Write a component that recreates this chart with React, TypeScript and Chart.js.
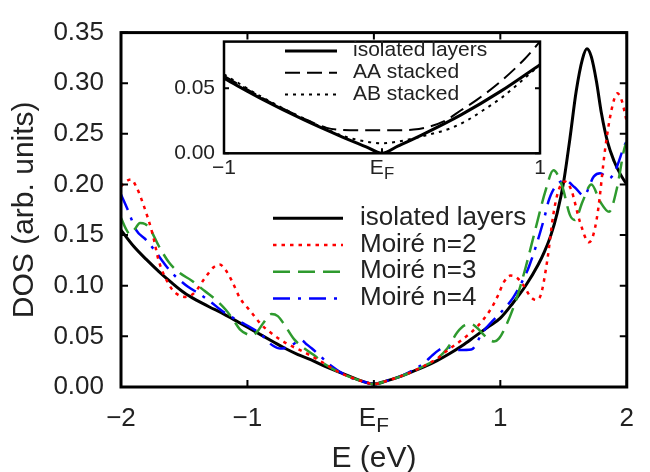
import React, { useEffect, useRef } from 'react';
import { Chart, registerables } from 'chart.js';

Chart.register(...registerables);

const FONT = "'Liberation Sans', Arial, Helvetica, sans-serif";
const TEXT = '#222222';

// ---------- tick labels ----------
const mainXTickValues = [-2, -1, 0, 1, 2];
const mainXTickLabels = ['\u22122', '\u22121', 'E_F', '1', '2'];
const mainYTickValues = [0, 0.05, 0.1, 0.15, 0.2, 0.25, 0.3, 0.35];
const mainYTickLabels = ['0.00', '0.05', '0.10', '0.15', '0.20', '0.25', '0.30', '0.35'];
const insetXTickValues = [-1, 0, 1];
const insetXTickLabels = ['\u22121', 'E_F', '1'];
const insetYTickValues = [0, 0.05];
const insetYTickLabels = ['0.00', '0.05'];

// ---------- legend labels ----------
const mainLabels = ['isolated layers', 'Moiré n=2', 'Moiré n=3', 'Moiré n=4'];
const insetLabels = ['isolated layers', 'AA stacked', 'AB stacked'];

// ---------- main series ----------
const isoE = [-2.0, -1.9, -1.8, -1.7, -1.6, -1.5, -1.4, -1.3, -1.2, -1.1, -1.0, -0.9, -0.8, -0.7, -0.6, -0.5, -0.4, -0.3, -0.2, -0.1, 0,
  0.1, 0.2, 0.3, 0.4, 0.5, 0.6, 0.7, 0.8, 0.9, 1.0, 1.1, 1.2, 1.3, 1.35, 1.4, 1.45, 1.5, 1.55, 1.6, 1.65, 1.685, 1.72, 1.76, 1.8, 1.85, 1.9, 1.95, 2.0];
const isoDOS = [0.155, 0.139, 0.126, 0.114, 0.103, 0.093, 0.0855, 0.079, 0.073, 0.066, 0.059, 0.052, 0.045, 0.038, 0.032, 0.027, 0.021, 0.016, 0.011, 0.006, 0.003,
  0.006, 0.010, 0.015, 0.020, 0.026, 0.033, 0.041, 0.050, 0.059, 0.068, 0.083, 0.100, 0.121, 0.134, 0.150, 0.172, 0.202, 0.245, 0.292, 0.324, 0.334, 0.326, 0.302, 0.270, 0.241, 0.223, 0.210, 0.200];

const n2E = [-2.0, -1.96, -1.92, -1.88, -1.82, -1.75, -1.70, -1.62, -1.56, -1.49, -1.42, -1.34, -1.27, -1.22, -1.17, -1.12, -1.06, -0.97, -0.90, -0.81, -0.69, -0.56, -0.43, -0.25, -0.1, 0,
  0.1, 0.2, 0.3, 0.4, 0.5, 0.57, 0.69, 0.82, 0.92, 0.98, 1.03, 1.08, 1.13, 1.18, 1.24, 1.28, 1.32, 1.37, 1.42, 1.46, 1.51, 1.56, 1.63, 1.70, 1.73, 1.77, 1.83, 1.88, 1.925, 1.96, 2.0];
const n2DOS = [0.198, 0.203, 0.205, 0.198, 0.179, 0.151, 0.124, 0.101, 0.092, 0.089, 0.093, 0.107, 0.118, 0.121, 0.115, 0.104, 0.088, 0.074, 0.063, 0.053, 0.043, 0.035, 0.026, 0.013, 0.006, 0.003,
  0.006, 0.010, 0.015, 0.021, 0.028, 0.035, 0.046, 0.060, 0.076, 0.090, 0.104, 0.110, 0.108, 0.101, 0.089, 0.086, 0.091, 0.124, 0.171, 0.194, 0.203, 0.195, 0.163, 0.143, 0.148, 0.172, 0.236, 0.274, 0.290, 0.283, 0.262];

const n3E = [-2.0, -1.96, -1.93, -1.89, -1.85, -1.81, -1.77, -1.70, -1.62, -1.54, -1.44, -1.34, -1.24, -1.17, -1.11, -1.06, -1.0, -0.96, -0.92, -0.87, -0.81, -0.76, -0.71, -0.63, -0.57, -0.48, -0.38, -0.25, -0.1, 0,
  0.1, 0.2, 0.3, 0.4, 0.5, 0.58, 0.66, 0.72, 0.77, 0.82, 0.85, 0.9, 0.95, 0.99, 1.05, 1.13, 1.2, 1.28, 1.36, 1.42, 1.49, 1.55, 1.59, 1.65, 1.72, 1.79, 1.86, 1.92, 1.98, 2.0];
const n3DOS = [0.167, 0.156, 0.151, 0.156, 0.162, 0.161, 0.156, 0.139, 0.123, 0.113, 0.105, 0.095, 0.085, 0.076, 0.066, 0.057, 0.052, 0.051, 0.055, 0.064, 0.072, 0.070, 0.062, 0.047, 0.040, 0.032, 0.022, 0.013, 0.006, 0.003,
  0.006, 0.010, 0.015, 0.021, 0.028, 0.038, 0.054, 0.061, 0.062, 0.058, 0.054, 0.048, 0.045, 0.048, 0.062, 0.088, 0.118, 0.157, 0.195, 0.214, 0.198, 0.170, 0.165, 0.183, 0.200, 0.183, 0.173, 0.195, 0.235, 0.242];

const n4E = [-2.0, -1.95, -1.88, -1.80, -1.74, -1.67, -1.60, -1.53, -1.47, -1.38, -1.29, -1.21, -1.11, -1.02, -0.95, -0.89, -0.84, -0.80, -0.74, -0.67, -0.60, -0.57, -0.54, -0.49, -0.42, -0.35, -0.2, -0.1, 0,
  0.1, 0.2, 0.3, 0.4, 0.46, 0.52, 0.57, 0.62, 0.68, 0.77, 0.86, 0.93, 1.0, 1.1, 1.18, 1.23, 1.35, 1.38, 1.42, 1.51, 1.59, 1.66, 1.74, 1.79, 1.86, 1.91, 1.98, 2.0];
const n4DOS = [0.190, 0.176, 0.155, 0.145, 0.136, 0.124, 0.113, 0.105, 0.099, 0.092, 0.084, 0.076, 0.068, 0.062, 0.057, 0.052, 0.045, 0.041, 0.038, 0.040, 0.045, 0.046, 0.043, 0.038, 0.030, 0.022, 0.010, 0.006, 0.003,
  0.006, 0.010, 0.016, 0.024, 0.031, 0.037, 0.040, 0.038, 0.0365, 0.037, 0.054, 0.064, 0.073, 0.088, 0.106, 0.120, 0.168, 0.183, 0.195, 0.204, 0.197, 0.189, 0.208, 0.211, 0.206, 0.214, 0.238, 0.243];

// ---------- inset series ----------
const insetIsoE = [-1.0, -0.75, -0.5, -0.25, -0.1, 0, 0.1, 0.25, 0.5, 0.75, 1.0];
const insetIsoDOS = [0.0575, 0.041, 0.026, 0.0125, 0.005, 0.0, 0.0055, 0.014, 0.0295, 0.0475, 0.068];
const insetAAE = [-1.0, -0.75, -0.5, -0.35, -0.25, -0.1, 0, 0.1, 0.2, 0.3, 0.4, 0.5, 0.6, 0.75, 0.9, 1.0];
const insetAADOS = [0.0595, 0.042, 0.027, 0.0195, 0.0179, 0.0176, 0.0176, 0.0177, 0.0182, 0.0205, 0.025, 0.033, 0.041, 0.055, 0.072, 0.0857];
const insetABE = [-1.0, -0.75, -0.5, -0.25, -0.1, 0, 0.1, 0.2, 0.3, 0.43, 0.55, 0.64, 0.75, 0.85, 1.0];
const insetABDOS = [0.0605, 0.0425, 0.027, 0.0135, 0.009, 0.0077, 0.009, 0.0115, 0.0145, 0.019, 0.026, 0.033, 0.042, 0.052, 0.068];

const pts = (xs: number[], ys: number[]) => xs.map((x, i) => ({ x, y: ys[i] }));
const labelFor = (vals: number[], labs: string[], v: number) => {
  const i = vals.findIndex((t) => Math.abs(t - v) < 1e-9);
  if (i < 0) return '';
  return labs[i] === 'E_F' ? '' : labs[i];
};

// ---------- plugins ----------
const framePlugin = {
  id: 'frame',
  beforeDatasetsDraw(chart: any, _a: any, opts: any) {
    if (opts.fillWhite) {
      const a = chart.chartArea;
      chart.ctx.save();
      chart.ctx.fillStyle = '#ffffff';
      chart.ctx.fillRect(a.left, a.top, a.right - a.left, a.bottom - a.top);
      chart.ctx.restore();
    }
  },
  afterDatasetsDraw(chart: any, _a: any, opts: any) {
    const { ctx, chartArea: a } = chart;
    const xs = chart.scales.x;
    const ys = chart.scales.y;
    ctx.save();
    ctx.strokeStyle = '#000';
    ctx.setLineDash([]);
    ctx.lineWidth = opts.tickWidth;
    ctx.beginPath();
    xs.ticks.forEach((t: any) => {
      const p = xs.getPixelForValue(t.value);
      ctx.moveTo(p, a.bottom); ctx.lineTo(p, a.bottom - opts.tickLen);
      ctx.moveTo(p, a.top); ctx.lineTo(p, a.top + opts.tickLen);
    });
    ys.ticks.forEach((t: any) => {
      const p = ys.getPixelForValue(t.value);
      ctx.moveTo(a.left, p); ctx.lineTo(a.left + opts.tickLen, p);
      ctx.moveTo(a.right, p); ctx.lineTo(a.right - opts.tickLen, p);
    });
    ctx.stroke();
    ctx.lineWidth = opts.borderWidth;
    ctx.strokeRect(a.left, a.top, a.right - a.left, a.bottom - a.top);
    ctx.restore();
  },
};

const subLabelPlugin = {
  id: 'subLabel',
  afterDraw(chart: any, _a: any, opts: any) {
    const { ctx, chartArea: a } = chart;
    const xs = chart.scales.x;
    const size = opts.size;
    const px = xs.getPixelForValue(0);
    const y = a.bottom + opts.padding + (size * 1.2) / 2;
    ctx.save();
    ctx.fillStyle = TEXT;
    ctx.textBaseline = 'middle';
    ctx.textAlign = 'left';
    ctx.font = `${size}px ${FONT}`;
    const wE = ctx.measureText('E').width;
    ctx.font = `${size * 0.8}px ${FONT}`;
    const wF = ctx.measureText('F').width;
    const x0 = px - (wE + wF) / 2;
    ctx.font = `${size}px ${FONT}`;
    ctx.fillText('E', x0, y);
    ctx.font = `${size * 0.8}px ${FONT}`;
    ctx.fillText('F', x0 + wE, y + size * 0.3);
    ctx.restore();
  },
};

const lineLegendPlugin = {
  id: 'lineLegend',
  afterDraw(chart: any, _a: any, opts: any) {
    const { ctx } = chart;
    ctx.save();
    chart.data.datasets.forEach((ds: any, i: number) => {
      const y = opts.y0 + i * opts.dy;
      ctx.strokeStyle = ds.borderColor;
      ctx.lineWidth = ds.borderWidth;
      ctx.lineCap = 'butt';
      ctx.setLineDash(ds.borderDash || []);
      ctx.beginPath();
      ctx.moveTo(opts.x0, y);
      ctx.lineTo(opts.x1, y);
      ctx.stroke();
      ctx.setLineDash([]);
      ctx.fillStyle = TEXT;
      ctx.font = `${opts.size}px ${FONT}`;
      ctx.textBaseline = 'middle';
      ctx.textAlign = 'left';
      ctx.fillText(ds.label, opts.textX, y - 0.5);
    });
    ctx.restore();
  },
};

const lineDs = (label: string, data: any[], color: string, width: number, dash: number[], order: number) => ({
  label,
  data,
  borderColor: color,
  backgroundColor: color,
  borderWidth: width,
  borderDash: dash,
  borderCapStyle: 'butt',
  pointRadius: 0,
  pointHoverRadius: 0,
  fill: false,
  cubicInterpolationMode: 'monotone',
  order,
});

export default function App() {
  const mainRef = useRef<HTMLCanvasElement>(null);
  const insetRef = useRef<HTMLCanvasElement>(null);

  useEffect(() => {
    const main = new Chart(mainRef.current as HTMLCanvasElement, {
      type: 'line',
      data: {
        datasets: [
          lineDs(mainLabels[0], pts(isoE, isoDOS), '#000000', 3, [], 10),
          lineDs(mainLabels[1], pts(n2E, n2DOS), '#ff0000', 2.5, [3.5, 5], 1),
          lineDs(mainLabels[2], pts(n3E, n3DOS), '#2e9a2e', 2.5, [17, 8], 2),
          lineDs(mainLabels[3], pts(n4E, n4DOS), '#0000ff', 2.5, [17, 8, 3, 8], 3),
        ] as any,
      },
      options: {
        animation: false,
        responsive: false,
        devicePixelRatio: 1,
        events: [],
        layout: { padding: { top: 16, right: 7, left: 0, bottom: 0 } },
        plugins: {
          legend: { display: false },
          tooltip: { enabled: false },
          frame: { tickLen: 7, tickWidth: 2, borderWidth: 3 },
          subLabel: { size: 26, padding: 16 },
          lineLegend: { x0: 273, x1: 343, textX: 360, y0: 218.3, dy: 26.7, size: 26 },
        } as any,
        scales: {
          x: {
            type: 'linear',
            min: -2,
            max: 2,
            grid: { display: false, drawTicks: false },
            border: { display: false },
            ticks: {
              stepSize: 1,
              autoSkip: false,
              maxRotation: 0,
              padding: 16,
              color: TEXT,
              font: { family: FONT, size: 26 },
              callback: (v: any) => labelFor(mainXTickValues, mainXTickLabels, Number(v)),
            },
            title: {
              display: true,
              text: 'E (eV)',
              color: TEXT,
              font: { family: FONT, size: 30, lineHeight: 0.8 },
              padding: { top: 0, bottom: 1 },
            },
            afterFit: (s: any) => { s.height = 85; },
          },
          y: {
            type: 'linear',
            min: 0,
            max: 0.35,
            grid: { display: false, drawTicks: false },
            border: { display: false },
            ticks: {
              stepSize: 0.05,
              autoSkip: false,
              padding: 17,
              color: TEXT,
              font: { family: FONT, size: 26 },
              callback: (v: any) => labelFor(mainYTickValues, mainYTickLabels, Number(v)),
            },
            title: {
              display: true,
              text: 'DOS (arb. units)',
              color: TEXT,
              font: { family: FONT, size: 30, lineHeight: 0.8 },
              padding: { top: 13, bottom: 0 },
            },
            afterFit: (s: any) => { s.width = 121; },
          },
        } as any,
      },
      plugins: [framePlugin, subLabelPlugin, lineLegendPlugin] as any,
    });

    const inset = new Chart(insetRef.current as HTMLCanvasElement, {
      type: 'line',
      data: {
        datasets: [
          lineDs(insetLabels[0], pts(insetIsoE, insetIsoDOS), '#000000', 3, [], 10),
          lineDs(insetLabels[1], pts(insetAAE, insetAADOS), '#000000', 2, [15, 7], 1),
          lineDs(insetLabels[2], pts(insetABE, insetABDOS), '#000000', 2, [3, 5], 2),
        ] as any,
      },
      options: {
        animation: false,
        responsive: false,
        devicePixelRatio: 1,
        events: [],
        layout: { padding: { top: 13, right: 20, left: 0, bottom: 0 } },
        plugins: {
          legend: { display: false },
          tooltip: { enabled: false },
          frame: { tickLen: 5, tickWidth: 2, borderWidth: 2.5, fillWhite: true },
          subLabel: { size: 21, padding: 2 },
          lineLegend: { x0: 135, x1: 187, textX: 203, y0: 31, dy: 21.7, size: 21 },
        } as any,
        scales: {
          x: {
            type: 'linear',
            min: -1,
            max: 1,
            grid: { display: false, drawTicks: false },
            border: { display: false },
            ticks: {
              stepSize: 1,
              autoSkip: false,
              maxRotation: 0,
              padding: 2,
              color: TEXT,
              font: { family: FONT, size: 21 },
              callback: (v: any) => labelFor(insetXTickValues, insetXTickLabels, Number(v)),
            },
            afterFit: (s: any) => { s.height = 41.7; },
          },
          y: {
            type: 'linear',
            min: 0,
            max: 0.0857,
            grid: { display: false, drawTicks: false },
            border: { display: false },
            ticks: {
              stepSize: 0.05,
              includeBounds: false,
              autoSkip: false,
              padding: 9,
              color: TEXT,
              font: { family: FONT, size: 21 },
              callback: (v: any) => labelFor(insetYTickValues, insetYTickLabels, Number(v)),
            },
            afterFit: (s: any) => { s.width = 74; },
          },
        } as any,
      },
      plugins: [framePlugin, subLabelPlugin, lineLegendPlugin] as any,
    });

    return () => {
      main.destroy();
      inset.destroy();
    };
  }, []);

  return (
    <div style={{ position: 'fixed', left: 0, top: 0, width: 650, height: 472, background: '#ffffff', overflow: 'hidden' }}>
      <canvas ref={mainRef} width={650} height={472} style={{ position: 'absolute', left: 0, top: 0, display: 'block' }} />
      <canvas ref={insetRef} width={410} height={175} style={{ position: 'absolute', left: 150, top: 20, display: 'block' }} />
    </div>
  );
}
